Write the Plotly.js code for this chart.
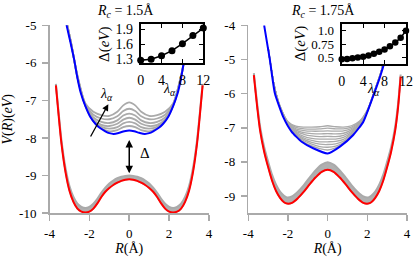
<!DOCTYPE html>
<html><head><meta charset="utf-8">
<script src="https://cdn.plot.ly/plotly-3.0.1.min.js"></script>
<style>html,body{margin:0;padding:0;background:#fff}#chart{width:415px;height:257px}</style>
</head><body><div id="chart"></div>
<script>
// ---------- Left panel (Rc = 1.5 Å) ----------
const redLx = [-3.68,-3.55,-3.4,-3.2,-3.0,-2.8,-2.6,-2.4,-2.2,-2.0,-1.8,-1.6,-1.4,-1.2,-1.0,-0.8,-0.6,-0.4,-0.2,0,0.2,0.4,0.6,0.8,1.0,1.2,1.4,1.6,1.8,2.0,2.2,2.4,2.6,2.8,3.0,3.2,3.4,3.55,3.68];
const redLy = [-6.6,-7.35,-8.15,-8.9,-9.4,-9.7,-9.88,-9.96,-9.98,-9.96,-9.88,-9.74,-9.57,-9.43,-9.33,-9.25,-9.19,-9.14,-9.11,-9.1,-9.11,-9.14,-9.19,-9.25,-9.33,-9.43,-9.57,-9.74,-9.88,-9.96,-9.98,-9.96,-9.88,-9.7,-9.4,-8.9,-8.15,-7.35,-6.6];
const bandLy = [-6.56,-7.28,-8.06,-8.79,-9.28,-9.57,-9.75,-9.83,-9.86,-9.83,-9.75,-9.62,-9.46,-9.32,-9.21,-9.13,-9.07,-9.03,-9.01,-9.0,-9.01,-9.03,-9.07,-9.13,-9.21,-9.32,-9.46,-9.62,-9.75,-9.83,-9.86,-9.83,-9.75,-9.57,-9.28,-8.79,-8.06,-7.28,-6.56];
const blueLx = [-3.3,-3.14,-2.95,-2.76,-2.6,-2.43,-2.2,-1.95,-1.7,-1.5,-1.2,-1.0,-0.78,-0.5,-0.25,0,0.25,0.5,0.78,1.0,1.2,1.5,1.7,1.95,2.2,2.43,2.6,2.76,2.95,3.14,3.3];
const blueLy = [-4.55,-5.0,-5.45,-5.92,-6.4,-6.8,-7.15,-7.44,-7.62,-7.72,-7.82,-7.87,-7.89,-7.86,-7.82,-7.8,-7.82,-7.86,-7.89,-7.87,-7.82,-7.72,-7.62,-7.44,-7.15,-6.8,-6.4,-5.92,-5.45,-5.0,-4.55];
const grayLx = [-3.2,-2.9,-2.6,-2.2,-1.8,-1.4,-1.0,-0.6,-0.3,0,0.3,0.6,1.0,1.4,1.8,2.2,2.6,2.9,3.2];
const grayL1 = [-4.78,-5.52,-6.39,-7.14,-7.55,-7.74,-7.82,-7.79,-7.71,-7.68,-7.71,-7.79,-7.82,-7.74,-7.55,-7.14,-6.39,-5.52,-4.78];
const grayL2 = [-4.78,-5.52,-6.38,-7.14,-7.53,-7.70,-7.75,-7.71,-7.61,-7.57,-7.61,-7.71,-7.75,-7.70,-7.53,-7.14,-6.38,-5.52,-4.78];
const grayL3 = [-4.78,-5.52,-6.37,-7.13,-7.50,-7.65,-7.68,-7.62,-7.51,-7.46,-7.51,-7.62,-7.68,-7.65,-7.50,-7.13,-6.37,-5.52,-4.78];
const grayL4 = [-4.78,-5.52,-6.36,-7.12,-7.45,-7.57,-7.60,-7.53,-7.40,-7.35,-7.40,-7.53,-7.60,-7.57,-7.45,-7.12,-6.36,-5.52,-4.78];
const grayL5 = [-4.78,-5.52,-6.35,-7.10,-7.38,-7.48,-7.50,-7.42,-7.28,-7.22,-7.28,-7.42,-7.50,-7.48,-7.38,-7.10,-6.35,-5.52,-4.78];
const grayL6 = [-4.78,-5.52,-6.33,-7.08,-7.30,-7.39,-7.41,-7.30,-7.13,-7.05,-7.13,-7.30,-7.41,-7.39,-7.30,-7.08,-6.33,-5.52,-4.78];
const lamL = [0,2,4,6,8,10,12];
const deltaL = [1.28,1.30,1.37,1.47,1.61,1.77,1.92];

// ---------- Right panel (Rc = 1.75 Å) ----------
const redRx = [-3.72,-3.55,-3.4,-3.2,-3.0,-2.8,-2.6,-2.4,-2.2,-2.05,-1.8,-1.5,-1.2,-0.9,-0.6,-0.3,0,0.3,0.6,0.9,1.2,1.5,1.8,2.05,2.2,2.4,2.6,2.8,3.0,3.2,3.4,3.55,3.68];
const redRy = [-5.46,-6.4,-7.1,-7.7,-8.15,-8.55,-8.85,-9.05,-9.18,-9.22,-9.2,-9.06,-8.87,-8.65,-8.45,-8.29,-8.23,-8.29,-8.45,-8.65,-8.87,-9.06,-9.2,-9.22,-9.18,-9.05,-8.85,-8.55,-8.15,-7.7,-7.1,-6.4,-5.5];
const bandRy = [-5.4,-6.3,-6.98,-7.56,-7.99,-8.38,-8.67,-8.87,-8.99,-9.04,-9.01,-8.87,-8.68,-8.45,-8.24,-8.08,-8.01,-8.08,-8.24,-8.45,-8.68,-8.87,-9.01,-9.04,-8.99,-8.87,-8.67,-8.38,-7.99,-7.56,-6.98,-6.3,-5.44];
const blueRx = [-3.2,-2.91,-2.66,-2.24,-1.82,-1.31,-0.73,0,0.62,1.29,1.8,2.22,2.64,2.89,3.1];
const blueRy = [-4.0,-5.02,-5.99,-6.68,-7.11,-7.41,-7.6,-7.75,-7.55,-7.21,-6.82,-6.19,-5.51,-5.02,-4.5];
const grayRx = [-3.0,-2.7,-2.4,-2.0,-1.6,-1.2,-0.8,-0.4,0,0.4,0.8,1.2,1.6,2.0,2.4,2.7,2.95];
const grayR1 = [-4.65,-5.75,-6.41,-6.91,-7.23,-7.42,-7.53,-7.61,-7.65,-7.59,-7.46,-7.24,-6.96,-6.54,-5.89,-5.35,-4.75];
const grayR2 = [-4.65,-5.75,-6.40,-6.90,-7.21,-7.38,-7.48,-7.55,-7.57,-7.54,-7.43,-7.22,-6.95,-6.53,-5.88,-5.35,-4.75];
const grayR3 = [-4.65,-5.75,-6.40,-6.89,-7.19,-7.34,-7.43,-7.48,-7.49,-7.47,-7.39,-7.20,-6.94,-6.52,-5.88,-5.35,-4.75];
const grayR4 = [-4.65,-5.75,-6.39,-6.88,-7.16,-7.30,-7.37,-7.41,-7.41,-7.40,-7.34,-7.17,-6.93,-6.51,-5.87,-5.35,-4.75];
const grayR5 = [-4.65,-5.75,-6.39,-6.87,-7.13,-7.25,-7.31,-7.33,-7.33,-7.33,-7.28,-7.14,-6.91,-6.51,-5.87,-5.35,-4.75];
const grayR6 = [-4.65,-5.75,-6.38,-6.86,-7.10,-7.19,-7.24,-7.26,-7.25,-7.26,-7.22,-7.10,-6.89,-6.50,-5.87,-5.35,-4.75];
const grayR7 = [-4.65,-5.75,-6.38,-6.85,-7.07,-7.14,-7.17,-7.18,-7.17,-7.18,-7.16,-7.06,-6.87,-6.50,-5.86,-5.35,-4.75];
const grayR8 = [-4.65,-5.75,-6.37,-6.84,-7.03,-7.08,-7.10,-7.10,-7.09,-7.10,-7.09,-7.02,-6.85,-6.49,-5.86,-5.35,-4.75];
const grayR9 = [-4.65,-5.75,-6.37,-6.83,-6.99,-7.03,-7.04,-7.03,-7.01,-7.03,-7.03,-6.98,-6.83,-6.49,-5.86,-5.35,-4.75];
const grayR10 = [-4.65,-5.75,-6.36,-6.82,-6.95,-6.98,-6.98,-6.97,-6.94,-6.97,-6.98,-6.94,-6.81,-6.48,-5.85,-5.35,-4.75];
const lamR = [0,1,2,3,4,5,6,7,8,9,10,11,12];
const deltaR = [0.47,0.475,0.485,0.50,0.515,0.54,0.57,0.61,0.65,0.71,0.78,0.87,1.0];

// ---------- tick labels ----------
const xTickVals = [-4,-2,0,2,4];
const xTickText = ['-4','-2','0','2','4'];
const yTickValsL = [-10,-9,-8,-7,-6,-5];
const yTickTextL = ['-10','-9','-8','-7','-6','-5'];
const yTickValsR = [-9,-8,-7,-6,-5,-4];
const yTickTextR = ['-9','-8','-7','-6','-5','-4'];
const insetXTicks = [0,4,8,12];
const insetYTicksL = [1.3,1.6,1.9];
const insetYTextL = ['1.3','1.6','1.9'];
const insetYTicksR = [0.5,0.75,1.0];
const insetYTextR = ['0.5','0.75','1.0'];

const GRAY = '#aaaaaa';
const FONT = 'Liberation Serif, Times New Roman, serif';
const traces = [];
function line(x, y, xa, ya, color, width, extra) {
  return Object.assign({x: x, y: y, xaxis: xa, yaxis: ya, type: 'scatter', mode: 'lines',
    line: {color: color, width: width, shape: 'spline', smoothing: 0.8}, hoverinfo: 'skip', showlegend: false}, extra || {});
}
// left panel
traces.push(line(redLx, redLy, 'x', 'y', GRAY, 1.5));
traces.push(line(redLx, bandLy, 'x', 'y', GRAY, 2, {fill: 'tonexty', fillcolor: '#b0b0b0'}));
[grayL1, grayL2, grayL3, grayL4, grayL5, grayL6].forEach(g => traces.push(line(grayLx, g, 'x', 'y', GRAY, 1.8)));
traces.push(line(redLx, redLy, 'x', 'y', '#ff0000', 2));
traces.push(line(blueLx, blueLy, 'x', 'y', '#0000ff', 2));
// right panel
traces.push(line(redRx, redRy, 'x2', 'y2', GRAY, 1.5));
traces.push(line(redRx, bandRy, 'x2', 'y2', GRAY, 2, {fill: 'tonexty', fillcolor: '#b0b0b0'}));
[grayR1, grayR2, grayR3, grayR4, grayR5, grayR6, grayR7, grayR8, grayR9, grayR10].forEach(g => traces.push(line(grayRx, g, 'x2', 'y2', GRAY, 1.3)));
traces.push(line(redRx, redRy, 'x2', 'y2', '#ff0000', 2));
traces.push(line(blueRx, blueRy, 'x2', 'y2', '#0000ff', 2, {line: {color: '#0000ff', width: 2, shape: 'spline', smoothing: 0.5}}));
// insets
traces.push({x: lamL, y: deltaL, xaxis: 'x3', yaxis: 'y3', type: 'scatter', mode: 'lines+markers',
  line: {color: '#000', width: 1.5}, marker: {color: '#000', size: 7}, showlegend: false, hoverinfo: 'skip', cliponaxis: false});
traces.push({x: lamR, y: deltaR, xaxis: 'x4', yaxis: 'y4', type: 'scatter', mode: 'lines+markers',
  line: {color: '#000', width: 1.5}, marker: {color: '#000', size: 6.5}, showlegend: false, hoverinfo: 'skip', cliponaxis: false});

const mainX = {range: [-4, 4], tickvals: xTickVals, ticktext: xTickText, showline: true, linecolor: GRAY, linewidth: 1.5,
  ticks: 'outside', ticklen: 6, tickwidth: 1.5, tickcolor: GRAY, showgrid: false, zeroline: false,
  tickfont: {family: FONT, size: 13, color: '#000'}, ticklabelstandoff: 2,
  title: {text: '<i>R</i>(Å)', font: {family: FONT, size: 14, color: '#000'}, standoff: 1}};
const mainY = {showline: true, linecolor: GRAY, linewidth: 1.5, ticks: 'outside', ticklen: 6, tickwidth: 1.5, tickcolor: GRAY,
  showgrid: false, zeroline: false, tickfont: {family: FONT, size: 13, color: '#000'}, ticklabelstandoff: 3};
const insetAx = {showline: true, linecolor: '#000', linewidth: 2, mirror: 'allticks', ticks: 'inside', ticklen: 4, tickwidth: 1,
  tickcolor: '#000', showgrid: false, zeroline: false, tickfont: {family: FONT, size: 14, color: '#000'}, ticklabelstandoff: 3};

const C = {xanchor: 'center', yanchor: 'middle', showarrow: false};
const layout = {
  width: 415, height: 257, margin: {l: 0, r: 0, t: 0, b: 0},
  paper_bgcolor: '#fff', plot_bgcolor: '#fff', showlegend: false,
  font: {family: FONT, size: 13, color: '#000'},
  xaxis: Object.assign({}, mainX, {domain: [0.1193, 0.5036], anchor: 'y'}),
  yaxis: Object.assign({}, mainY, {domain: [0.1706, 0.9014], anchor: 'x', range: [-10, -5], tickvals: yTickValsL, ticktext: yTickTextL,
    title: {text: '<i>V</i>(<i>R</i>)(<i>eV</i>)', font: {family: FONT, size: 14, color: '#000'}, standoff: 6}}),
  xaxis2: Object.assign({}, mainX, {domain: [0.5983, 0.9807], anchor: 'y2'}),
  yaxis2: Object.assign({}, mainY, {domain: [0.1706, 0.9014], anchor: 'x2', range: [-9.5, -4], tickvals: yTickValsR, ticktext: yTickTextR}),
  xaxis3: Object.assign({}, insetAx, {domain: [0.339, 0.4899], anchor: 'y3', range: [0, 12], tickvals: insetXTicks}),
  yaxis3: Object.assign({}, insetAx, {domain: [0.7537, 0.9066], anchor: 'x3', range: [1.22, 2.0], tickvals: insetYTicksL, ticktext: insetYTextL}),
  xaxis4: Object.assign({}, insetAx, {domain: [0.8234, 0.9783], anchor: 'y4', range: [0, 12], tickvals: insetXTicks}),
  yaxis4: Object.assign({}, insetAx, {domain: [0.751, 0.9054], anchor: 'x4', range: [0.38, 1.12], tickvals: insetYTicksR, ticktext: insetYTextR,
    tickfont: {family: FONT, size: 13, color: '#000'}}),
  annotations: [
    Object.assign({xref: 'paper', yref: 'paper', x: 0.3036, y: 0.955, text: '<i>R</i><sub><i>c</i></sub> = 1.5Å', font: {family: FONT, size: 14}}, C),
    Object.assign({xref: 'paper', yref: 'paper', x: 0.778, y: 0.955, text: '<i>R</i><sub><i>c</i></sub> = 1.75Å', font: {family: FONT, size: 14}}, C),
    {xref: 'x', yref: 'y', x: -1.05, y: -7.1, ax: -1.98, ay: -8.0, axref: 'x', ayref: 'y', text: '', showarrow: true, arrowhead: 2, arrowsize: 1, arrowwidth: 1.3, arrowcolor: '#000', standoff: 0, startstandoff: 0},
    Object.assign({xref: 'x', yref: 'y', x: -1.12, y: -6.83, text: '<i>λ</i><sub><i>α</i></sub>', font: {family: FONT, size: 14}}, C),
    {xref: 'x', yref: 'y', x: 0, y: -8.05, ax: 0, ay: -8.98, axref: 'x', ayref: 'y', text: '', showarrow: true, arrowside: 'end+start', arrowhead: 2, arrowsize: 1, arrowwidth: 1.5, arrowcolor: '#000', standoff: 0, startstandoff: 0},
    Object.assign({xref: 'x', yref: 'y', x: 0.78, y: -8.4, text: 'Δ', font: {family: FONT, size: 15}}, C),
    Object.assign({xref: 'paper', yref: 'paper', x: 0.253, y: 0.8288, text: 'Δ(<i>eV</i>)', textangle: -90, font: {family: FONT, size: 15}}, C),
    Object.assign({xref: 'paper', yref: 'paper', x: 0.726, y: 0.8288, text: 'Δ(<i>eV</i>)', textangle: -90, font: {family: FONT, size: 15}}, C),
    Object.assign({xref: 'paper', yref: 'paper', x: 0.4096, y: 0.65, text: '<i>λ</i><sub><i>α</i></sub>', font: {family: FONT, size: 14}}, C),
    Object.assign({xref: 'paper', yref: 'paper', x: 0.8988, y: 0.65, text: '<i>λ</i><sub><i>α</i></sub>', font: {family: FONT, size: 14}}, C)
  ]
};
Plotly.newPlot('chart', traces, layout, {staticPlot: true, displayModeBar: false});
</script></body></html>
